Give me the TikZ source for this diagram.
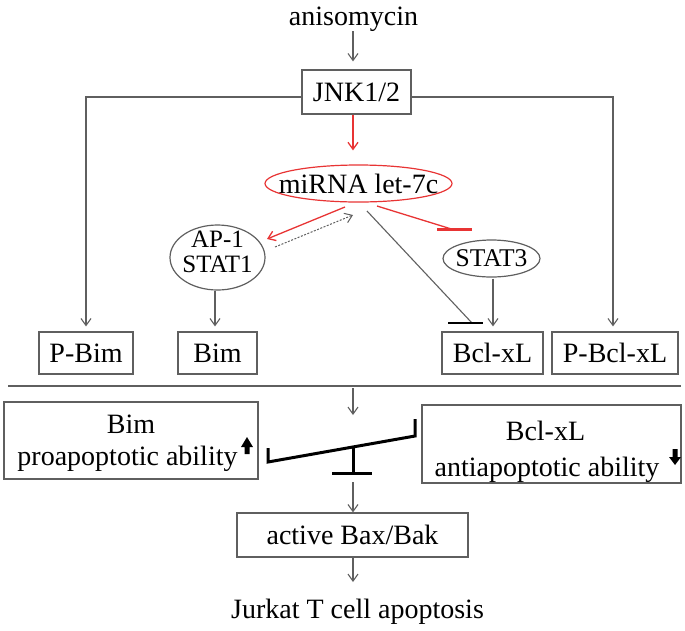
\documentclass[tikz,border=0pt]{standalone}
\usepackage{fontspec}
\setmainfont{Liberation Serif}
\usetikzlibrary{arrows.meta,shapes.geometric}
\definecolor{lred}{RGB}{232,52,52}
\definecolor{lgray}{RGB}{95,95,95}
\begin{document}
\begin{tikzpicture}[x=1pt,y=-1pt,
  every node/.style={font=\fontsize{28}{30}\selectfont, inner sep=0pt},
  box/.style={draw=lgray, line width=1.2pt, minimum height=42pt},
  ell/.style={ellipse, draw=lgray, line width=1.2pt},
  arr/.style={draw=lgray, line width=1.1pt, -{Straight Barb[length=7pt,width=10pt]}},
  redarr/.style={draw=lred, line width=1.3pt, -{Straight Barb[length=7pt,width=10pt]}},
  heavy/.style={draw=black, line width=3pt},
  plain/.style={draw=lgray, line width=1.1pt}
]
\useasboundingbox (0,0) rectangle (685,630);

% nodes
\node[anchor=base] (aniso) at (353.5,25) {anisomycin};
\node[box, minimum width=109pt, minimum height=44pt] (jnk) at (356.5,92) {JNK1/2};
\node[ell, draw=lred, inner xsep=-20pt, minimum width=187pt, minimum height=37pt] (mir) at (358.5,183.5) {miRNA let-7c};
\node[ell, align=center, font=\fontsize{25}{25.5}\selectfont, inner xsep=-8pt, inner ysep=-6pt, minimum width=95pt, minimum height=65pt] (ap1) at (217.5,257.5) {AP-1\\STAT1\rule[-12pt]{0pt}{12pt}};
\node[ell, font=\fontsize{25.5}{27}\selectfont, inner xsep=-12pt, minimum width=97pt, minimum height=37pt] (stat3) at (491.5,258.5) {STAT3};

\node[box, minimum width=94pt] (pbim) at (86,353) {P-Bim};
\node[box, minimum width=79pt] (bim) at (217.5,353) {Bim};
\node[box, minimum width=101pt] (bcl) at (492.5,353) {Bcl-xL};
\node[box, minimum width=126pt] (pbcl) at (615,353) {P-Bcl-xL};

\node[box, minimum width=254pt, minimum height=77pt] (bimbox) at (131,440.5) {};
\node[anchor=base] (bimt1) at (131,433) {Bim};
\node[anchor=base] (bimt2) at (127.5,465) {proapoptotic ability};
\node[box, minimum width=259pt, minimum height=78pt] (bclbox) at (551.5,444) {};
\node[anchor=base] (bclt1) at (545.5,440) {Bcl-xL};
\node[anchor=base] (bclt2) at (547,476) {antiapoptotic ability};

\node[box, minimum width=231pt, minimum height=44pt] (bax) at (352.5,535) {active Bax/Bak};
\node[anchor=base] (jurkat) at (357.5,618) {Jurkat T cell apoptosis};

% helper coordinates
\coordinate (c353) at (353,0);
\coordinate (r1s) at (345,207);
\coordinate (r1e) at (267,239);
\coordinate (d1s) at (275,247);
\coordinate (d1e) at (353,215);
\coordinate (r2s) at (377,206);
\coordinate (r2e) at (453,229.5);
\coordinate (r2a) at (437,229.5);
\coordinate (r2b) at (472,229.5);
\coordinate (k1s) at (367,211);
\coordinate (k1e) at (472,323);
\coordinate (k1a) at (448,323);
\coordinate (k1b) at (483,323);
\coordinate (sepL) at (8,386);
\coordinate (sepR) at (681,386);
\coordinate (sepArrS) at (353,388);
\coordinate (sepArrE) at (353,415);
\coordinate (balL) at (268,462);
\coordinate (balLt) at (268,448);
\coordinate (balR) at (415,436);
\coordinate (balRt) at (415,419);
\coordinate (fulT) at (353,447);
\coordinate (fulB) at (353,473);
\coordinate (fulBL) at (332,473);
\coordinate (fulBR) at (372,473);
\coordinate (baxArrS) at (353,482);
\coordinate (jurArrE) at (353,582);

% connectors
\draw[arr, shorten >=8pt] (aniso.south -| c353) -- (jnk.north -| c353);
\draw[redarr, shorten >=14pt] (jnk.south -| c353) -- (mir.north -| c353);
\draw[arr, shorten >=5pt] ([yshift=-5pt]jnk.west) -| (pbim.north);
\draw[arr, shorten >=5pt] ([yshift=-5pt]jnk.east) -| ([xshift=-2pt]pbcl.north);
\draw[redarr] (r1s) -- (r1e);
\draw[arr, dash pattern=on 2pt off 1.5pt, line width=1pt] (d1s) -- (d1e);
\draw[draw=lred, line width=1.3pt] (r2s) -- (r2e);
\draw[draw=lred, line width=2.5pt] (r2a) -- (r2b);
\draw[plain] (k1s) -- (k1e);
\draw[heavy, line width=2.8pt] (k1a) -- (k1b);
\draw[arr, shorten <=1pt, shorten >=5pt] ([xshift=1.5pt]stat3.south) -- ([xshift=1.5pt]stat3.south |- bcl.north);
\draw[arr, shorten >=5pt] ([xshift=-2.5pt]ap1.south) -- ([xshift=-2.5pt]ap1.south |- bim.north);

\draw[plain] (sepL) -- (sepR);
\draw[arr] (sepArrS) -- (sepArrE);

\draw[heavy] (balLt) -- (balL) -- (balR) -- (balRt);
\draw[heavy] (fulT) -- (fulB);
\draw[heavy] (fulBL) -- (fulBR);

\draw[arr] (baxArrS) -- (bax.north -| c353);
\draw[arr] (bax.south -| c353) -- (jurArrE);

% thick up/down arrows
\fill[black] (241,447) -- (247,437) -- (253,447) -- (249.5,447) -- (249.5,454) -- (244.5,454) -- (244.5,447) -- cycle;
\fill[black] (672.5,449) -- (677.5,449) -- (677.5,457) -- (681,457) -- (675,465) -- (669,457) -- (672.5,457) -- cycle;
\end{tikzpicture}
\end{document}
